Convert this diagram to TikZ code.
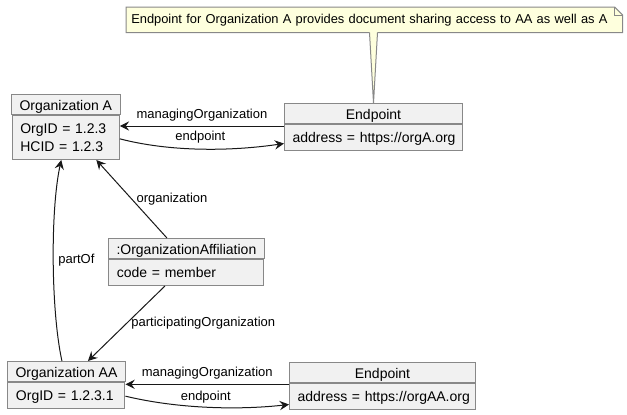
\documentclass[tikz,border=0pt]{standalone}
\usepackage{fontspec}
\setmainfont{Liberation Sans}
\usetikzlibrary{positioning,arrows.meta,backgrounds}
\definecolor{boxgray}{HTML}{F1F1F1}
\definecolor{linegray}{HTML}{888888}
\definecolor{notefill}{HTML}{FEFFDD}
\definecolor{arrowdark}{HTML}{181818}
\newcommand{\headstrut}{\rule[-3pt]{0pt}{15pt}}
\newcommand{\topstrut}{\rule{0pt}{13.5pt}}
\newcommand{\botstrut}{\rule[-6pt]{0pt}{6pt}}
\tikzset{
  objhead/.style={draw=linegray, fill=boxgray, line width=0.75pt, inner xsep=6pt, inner ysep=0pt,
    anchor=north west, font=\fontsize{10.5}{13.5}\selectfont},
  objattr/.style={draw=linegray, fill=boxgray, line width=0.75pt, inner xsep=6pt, inner ysep=0pt,
    align=left, below=0pt of #1, font=\fontsize{10.5}{13.5}\selectfont},
  notebox/.style={anchor=north west, minimum height=18.75pt, inner sep=0pt,
    text width=372pt, align=left, font=\fontsize{9.65}{12}\selectfont},
  assoc/.style={draw=arrowdark, line width=0.75pt, -{Stealth[length=7pt,width=7pt,inset=2.5pt]}},
  lbl/.style={font=\fontsize{9.75}{12}\selectfont, text=black},
}
\begin{document}
\begin{tikzpicture}[x=0.75pt, y=-0.75pt]
\useasboundingbox (0,0) rectangle (627,414);
% note
\node[notebox] (note) at (126,7) {\hspace*{3.75pt}Endpoint for Organization A provides document sharing access to AA as well as A};
\begin{scope}[on background layer]
\fill[notefill] (note.south west) -- (note.north west) -- ([xshift=-6pt]note.north east)
   -- ([yshift=-6pt]note.north east) -- (note.south east) -- cycle;
\end{scope}
\draw[linegray, line width=0.75pt] (note.south west) -- (note.north west) -- ([xshift=-6pt]note.north east)
   -- ([yshift=-6pt]note.north east) -- (note.south east) -- cycle;
\draw[linegray, line width=0.75pt] ([xshift=-6pt]note.north east) |- ([yshift=-6pt]note.north east);

% objects
\node[objhead, minimum width=80.25pt] (orgA) at (11,94) {\headstrut Organization A};
\node[objattr=orgA, text width=68.25pt] (orgA-attr) {\topstrut OrgID~=~1.2.3\\HCID~=~1.2.3\botstrut};
\node[objhead, minimum width=133.5pt] (epA) at (284,103) {\headstrut Endpoint};
\node[objattr=epA, text width=121.5pt] (epA-attr) {\topstrut address~=~https://orgA.org\botstrut};
\node[objhead, minimum width=116.25pt] (aff) at (108,238) {\headstrut :OrganizationAffiliation};
\node[objattr=aff, text width=104.25pt] (aff-attr) {\topstrut code~=~member\botstrut};
\node[objhead, minimum width=87.75pt] (orgAA) at (7,361) {\headstrut Organization AA};
\node[objattr=orgAA, text width=75.75pt] (orgAA-attr) {\topstrut OrgID~=~1.2.3.1\botstrut};
\node[objhead, minimum width=139.5pt] (epAA) at (289,362) {\headstrut Endpoint};
\node[objattr=epAA, text width=127.5pt] (epAA-attr) {\topstrut address~=~https://orgAA.org\botstrut};

% note pointer
\coordinate (pbase) at (note.south -| epA.north);
\fill[notefill] ([xshift=-3pt,yshift=0.75pt]pbase) -- (epA.north) -- ([xshift=3pt,yshift=0.75pt]pbase) -- cycle;
\draw[linegray, line width=0.75pt] ([xshift=-3pt]pbase) -- (epA.north) -- ([xshift=3pt]pbase);

% links
\draw[assoc] ([yshift=-1.5pt]epA-attr.north west) -- ([yshift=-1.5pt]epA-attr.north west -| orgA-attr.east)
   node[lbl, midway, above] {managingOrganization};
\draw[assoc] ([yshift=-1pt]orgA-attr.east) .. controls +(50,13) and +(-54,8) .. ([yshift=-4.5pt]epA-attr.west)
   node[lbl, midway, above=0.5pt] {endpoint};
\draw[assoc] ([xshift=-14.6pt]aff.north) -- ([xshift=22.9pt]orgA-attr.south)
   node[lbl, midway, right] {organization};
\draw[assoc] ([xshift=-16.1pt]aff-attr.south) -- ([xshift=16.1pt]orgAA.north)
   node[lbl, midway, right] {participatingOrganization};
\draw[assoc] ([xshift=-3.4pt]orgAA.north) .. controls +(-11,-50) and +(-11,50) .. ([xshift=-3.4pt]orgA-attr.south)
   node[lbl, midway, right] {partOf};
\draw[assoc] ([yshift=-1pt]epAA-attr.north west) -- ([yshift=-1pt]epAA-attr.north west -| orgAA-attr.east)
   node[lbl, midway, above] {managingOrganization};
\draw[assoc] ([yshift=-0.5pt]orgAA-attr.east) .. controls +(50,12) and +(-54,6) .. ([yshift=-6pt]epAA-attr.west)
   node[lbl, midway, above=-0.5pt] {endpoint};
\end{tikzpicture}
\end{document}
